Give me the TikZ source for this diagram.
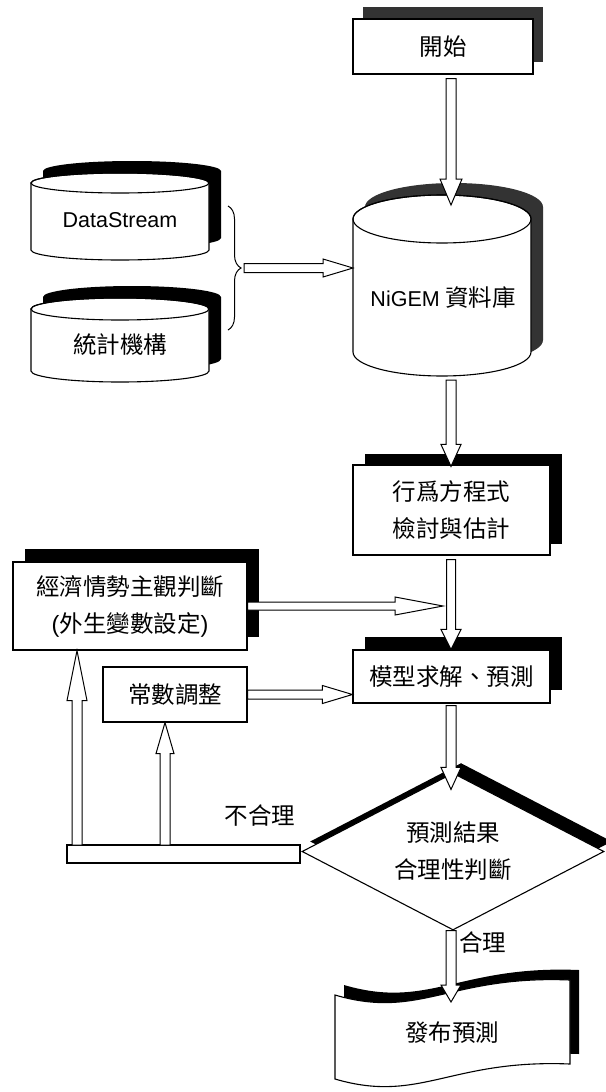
\documentclass[tikz,border=0pt]{standalone}
\usepackage{fontspec}
\setmainfont{Liberation Sans}
\newfontfamily\cjk{Noto Sans CJK TC}
\usetikzlibrary{shapes.geometric,shadows,calc,decorations.pathreplacing}

\tikzset{
  lbl/.style={font=\fontsize{23.5}{37}\selectfont\cjk, align=center, inner sep=0pt},
  box/.style={lbl, draw=black, line width=1.1pt, fill=white, rectangle},
  hollow/.style={draw=black, fill=white, line width=1pt, line join=miter},
  outl/.style={draw=black, line width=1.1pt},
}
\newcommand\lat[1]{{\rmfamily\fontsize{21.5}{26}\selectfont #1}}
% cylinder: cx, ytop-centre, ybottom-centre, rx, ry, shadow colour, shadow shift
\newcommand\cyl[7]{%
  \fill[#6, shift={(#7,#7)}] (#1-#4,-#2) -- (#1-#4,-#3) arc[start angle=180,end angle=360,x radius=#4,y radius=#5] -- (#1+#4,-#2) arc[start angle=0,end angle=180,x radius=#4,y radius=#5] -- cycle;
  \filldraw[fill=white, outl] (#1-#4,-#2) -- (#1-#4,-#3) arc[start angle=180,end angle=360,x radius=#4,y radius=#5] -- (#1+#4,-#2) arc[start angle=0,end angle=180,x radius=#4,y radius=#5] -- cycle;
  \draw[outl] (#1,-#2) ellipse[x radius=#4, y radius=#5];}
% hollow arrows: #1 reference point (axis), #2 from, #3 to (tip), #4 head length, #5 head half width, #6 shaft half width
\newcommand\arrdown[6]{\draw[hollow] let \p3=(#1), \p1=(#2), \p2=(#3) in
  (\x3-#6pt,\y1) -- (\x3-#6pt,\y2+#4pt) -- (\x3-#5pt,\y2+#4pt) -- (\x3,\y2) -- (\x3+#5pt,\y2+#4pt) -- (\x3+#6pt,\y2+#4pt) -- (\x3+#6pt,\y1) -- cycle;}
\newcommand\arrup[6]{\draw[hollow] let \p3=(#1), \p1=(#2), \p2=(#3) in
  (\x3-#6pt,\y1) -- (\x3-#6pt,\y2-#4pt) -- (\x3-#5pt,\y2-#4pt) -- (\x3,\y2) -- (\x3+#5pt,\y2-#4pt) -- (\x3+#6pt,\y2-#4pt) -- (\x3+#6pt,\y1) -- cycle;}
\newcommand\arrright[6]{\draw[hollow] let \p3=(#1), \p1=(#2), \p2=(#3) in
  (\x1,\y3-#6pt) -- (\x2-#4pt,\y3-#6pt) -- (\x2-#4pt,\y3-#5pt) -- (\x2,\y3) -- (\x2-#4pt,\y3+#5pt) -- (\x2-#4pt,\y3+#6pt) -- (\x1,\y3+#6pt) -- cycle;}

\begin{document}
\begin{tikzpicture}[x=1pt,y=1pt]
\useasboundingbox (0,0) rectangle (605,-1092);
\fill[white] (0,0) rectangle (605,-1092);

\coordinate (ax) at (451,0);

% start
\node[box, drop shadow={shadow xshift=10pt, shadow yshift=12pt, opacity=1, fill=black!80},
      minimum width=180pt, minimum height=55pt] (start) at (443,-46.5) {開始};

% source cylinders
\cyl{120}{183}{250}{89}{10}{black}{12}
\node[lbl] (ds) at (120,-220) {\lat{DataStream}};
\cyl{120}{309}{371}{89}{11}{black}{12}
\node[lbl] (stat) at (120,-345) {統計機構};

% NiGEM cylinder
\cyl{442}{219}{352}{89}{24}{black!80}{12}
\node[lbl] (nigem) at (443,-298) {\lat{NiGEM} 資料庫};
\coordinate (nigemtop) at (451,-205);
\coordinate (nigembot) at (451,-380);
\coordinate (nigemleft) at (353,-268);

% brace
\draw[line width=1pt, decorate, decoration={brace, amplitude=13pt}] (228,-206) -- (228,-330);
\coordinate (bracetip) at (244,-268);

% process boxes
\node[box, drop shadow={shadow xshift=12pt, shadow yshift=11pt, opacity=1, fill=black},
      minimum width=197pt, minimum height=90pt] (beh) at (451.5,-510) {行爲方程式\\檢討與估計};
\node[box, drop shadow={shadow xshift=12pt, shadow yshift=13pt, opacity=1, fill=black},
      minimum width=234pt, minimum height=88pt] (econ) at (130,-606) {經濟情勢主觀判斷\\{\rmfamily(}外生變數設定{\rmfamily)}};
\node[box, minimum width=144pt, minimum height=55pt] (const) at (175,-694.5) {常數調整};
\node[box, drop shadow={shadow xshift=12pt, shadow yshift=13pt, opacity=1, fill=black},
      minimum width=197pt, minimum height=53pt] (model) at (451.5,-676.5) {模型求解、預測};
\coordinate (merge) at (443,-606);

% decision
\node[lbl, draw=black, line width=1.1pt, fill=white, shape=diamond, aspect=1.92,
      minimum width=302pt, minimum height=157pt,
      drop shadow={shadow xshift=8pt, shadow yshift=10pt, opacity=1, fill=black}] (dec) at (453,-851.5) {預測結果\\合理性判斷};

% feedback bar
\node[draw=black, line width=1.1pt, fill=white, rectangle, inner sep=0pt,
      minimum width=233pt, minimum height=18pt] (bar) at (183.5,-854) {};
\coordinate (b1) at (77,-845);
\coordinate (b2) at (165,-845);
\node[lbl] (no) at (260,-816) {不合理};

% publish (document shape)
\fill[black, shift={(9,10)}] (335,-995) .. controls (420,-1020) and (450,-975) .. (570,-980) -- (570,-1064) .. controls (450,-1059) and (420,-1104) .. (335,-1079) -- cycle;
\filldraw[fill=white, outl] (335,-995) .. controls (420,-1020) and (450,-975) .. (570,-980) -- (570,-1064) .. controls (450,-1059) and (420,-1104) .. (335,-1079) -- cycle;
\node[lbl] (pub) at (452,-1033) {發布預測};
\coordinate (pubtop) at (451,-1002);
\node[lbl, anchor=west] (yes) at (459,-942) {合理};

% connectors
\arrdown{ax}{$(start.south)+(0,-4)$}{nigemtop}{26}{11}{5}
\arrdown{ax}{nigembot}{$(beh.north)+(0,-2)$}{22}{10}{5}
\arrdown{ax}{$(beh.south)+(0,-4)$}{model.north}{20}{10}{4.5}
\arrdown{ax}{$(model.south)+(0,-2)$}{$(dec.north)+(0,-17)$}{22}{10}{5}
\arrdown{ax}{dec.south}{pubtop}{17}{10}{5}
\arrright{bracetip}{bracetip}{nigemleft}{30}{9}{4.5}
\arrright{merge}{econ.east}{merge}{48}{9}{4}
\arrright{const.east}{const.east}{model.west}{30}{9}{4.5}
\arrup{b1}{b1}{econ.south}{50}{10}{5}
\arrup{b2}{b2}{const.south}{31}{9}{5}
\end{tikzpicture}
\end{document}
